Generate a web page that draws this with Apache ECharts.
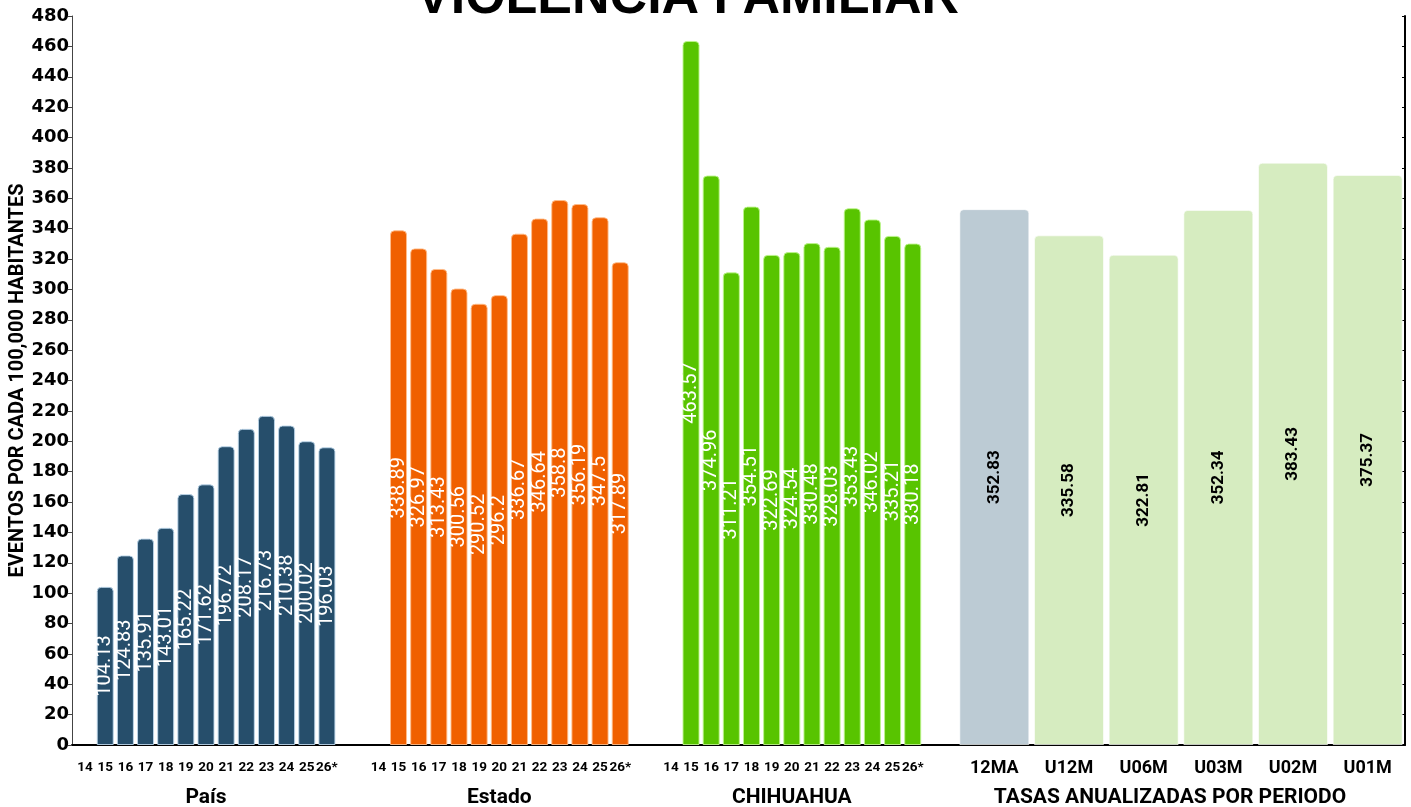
<!DOCTYPE html>
<html>
<head>
<meta charset="utf-8">
<script src="https://cdn.jsdelivr.net/npm/echarts@6/dist/echarts.min.js"></script>
<style>
html,body{margin:0;padding:0;background:#fff;}
#chart{width:1411px;height:807px;}
</style>
</head>
<body>
<div id="chart"></div>
<script>
// ---- data ----
const years = ['14','15','16','17','18','19','20','21','22','23','24','25','26*'];
const paisValues = [null, 104.13, 124.83, 135.91, 143.01, 165.22, 171.62, 196.72, 208.17, 216.73, 210.38, 200.02, 196.03];
const estadoValues = [null, 338.89, 326.97, 313.43, 300.56, 290.52, 296.2, 336.67, 346.64, 358.8, 356.19, 347.5, 317.89];
const chihuahuaValues = [null, 463.57, 374.96, 311.21, 354.51, 322.69, 324.54, 330.48, 328.03, 353.43, 346.02, 335.21, 330.18];
const periodos = ['12MA','U12M','U06M','U03M','U02M','U01M'];
const tasasValues = [352.83, 335.58, 322.81, 352.34, 383.43, 375.37];
const groupNames = ['País', 'Estado', 'CHIHUAHUA', 'TASAS ANUALIZADAS POR PERIODO'];
const yMin = 0, yMax = 480, yStep = 20;

// ---- layout ----
const TOP = 16, BOTTOM = 62;
const groups = [
  {left: 75, width: 262, cats: years, vals: paisValues, color: '#264e6b', border: 'rgba(190,215,235,0.9)', bw: 17},
  {left: 368.3, width: 262, cats: years, vals: estadoValues, color: '#f06000', border: 'rgba(255,190,140,0.9)', bw: 17},
  {left: 660.8, width: 262, cats: years, vals: chihuahuaValues, color: '#58c400', border: 'rgba(190,245,140,0.9)', bw: 17},
  {left: 957, width: 448, cats: periodos, vals: tasasValues, color: null, border: 'rgba(255,255,255,0.6)', bw: 70}
];

const grid = [{left: 72, right: 6, top: TOP, bottom: BOTTOM, outerBoundsMode: 'none', containLabel: false}];
const xAxis = [{
  gridIndex: 0, type: 'value', min: 0, max: 1,
  axisLine: {show: true, onZero: false, lineStyle: {color: '#000', width: 2}},
  axisTick: {show: false}, axisLabel: {show: false}, splitLine: {show: false}
}];
const yAxis = [{
  gridIndex: 0, type: 'value', min: yMin, max: yMax, interval: yStep,
  name: 'EVENTOS POR CADA 100,000 HABITANTES', nameLocation: 'middle', nameGap: 44,
  nameMoveOverlap: false,
  nameTextStyle: {fontFamily: 'Roboto', fontWeight: 'bold', fontSize: 20, color: '#000'},
  axisLine: {show: true, lineStyle: {color: '#444', width: 1}},
  axisTick: {show: true, length: 4, lineStyle: {color: '#444'}},
  axisLabel: {margin: 3, fontFamily: 'DejaVu Sans', fontWeight: 'bold', fontSize: 18, color: '#000'},
  splitLine: {show: false}
}, {
  gridIndex: 0, type: 'value', min: yMin, max: yMax, interval: yStep, position: 'right',
  axisLine: {show: true, lineStyle: {color: '#000', width: 2}},
  axisTick: {show: true, inside: true, length: 3, lineStyle: {color: '#000'}},
  axisLabel: {show: false}, splitLine: {show: false}
}];
const series = [];

groups.forEach((g, i) => {
  const gi = i + 1;
  grid.push({left: g.left, width: g.width, top: TOP, bottom: BOTTOM, outerBoundsMode: 'none', containLabel: false});
  const isTasas = i === 3;
  xAxis.push({
    gridIndex: gi, type: 'category', data: g.cats,
    axisLine: {show: false}, axisTick: {show: false},
    axisLabel: {
      interval: 0, margin: isTasas ? 14 : 16,
      fontFamily: 'Roboto', fontWeight: 'bold',
      fontSize: isTasas ? 18 : 13.5, color: '#000'
    },
    name: groupNames[i], nameLocation: 'middle', nameGap: 42,
    nameTextStyle: {
      fontFamily: 'Roboto', fontWeight: 'bold', fontSize: 21, color: '#000',
      padding: isTasas ? [0, 22, 0, 0] : 0
    }
  });
  yAxis.push({gridIndex: gi, type: 'value', min: yMin, max: yMax, interval: yStep, show: false});
  series.push({
    type: 'bar', xAxisIndex: gi, yAxisIndex: gi + 1,
    data: g.vals, barWidth: g.bw,
    itemStyle: {
      color: isTasas ? (p => p.dataIndex === 0 ? '#bccbd4' : '#d6ecc0') : g.color,
      borderColor: g.border, borderWidth: 1,
      borderRadius: [4, 4, 0, 0]
    },
    label: {
      show: true, position: 'inside', rotate: 90,
      fontFamily: 'Roboto',
      fontWeight: isTasas ? 'bold' : 'normal',
      fontSize: isTasas ? 17 : 20,
      color: isTasas ? '#000' : '#fff',
      formatter: p => String(p.value)
    },
    silent: true, animation: false
  });
});

const chart = echarts.init(document.getElementById('chart'), null, {renderer: 'canvas'});
chart.setOption({
  animation: false,
  backgroundColor: '#fff',
  title: {
    text: 'VIOLENCIA FAMILIAR', left: 411, top: -32,
    textStyle: {fontFamily: 'Liberation Sans', fontWeight: 'bold', fontSize: 52, color: '#000'}
  },
  grid, xAxis, yAxis, series
});
</script>
</body>
</html>
